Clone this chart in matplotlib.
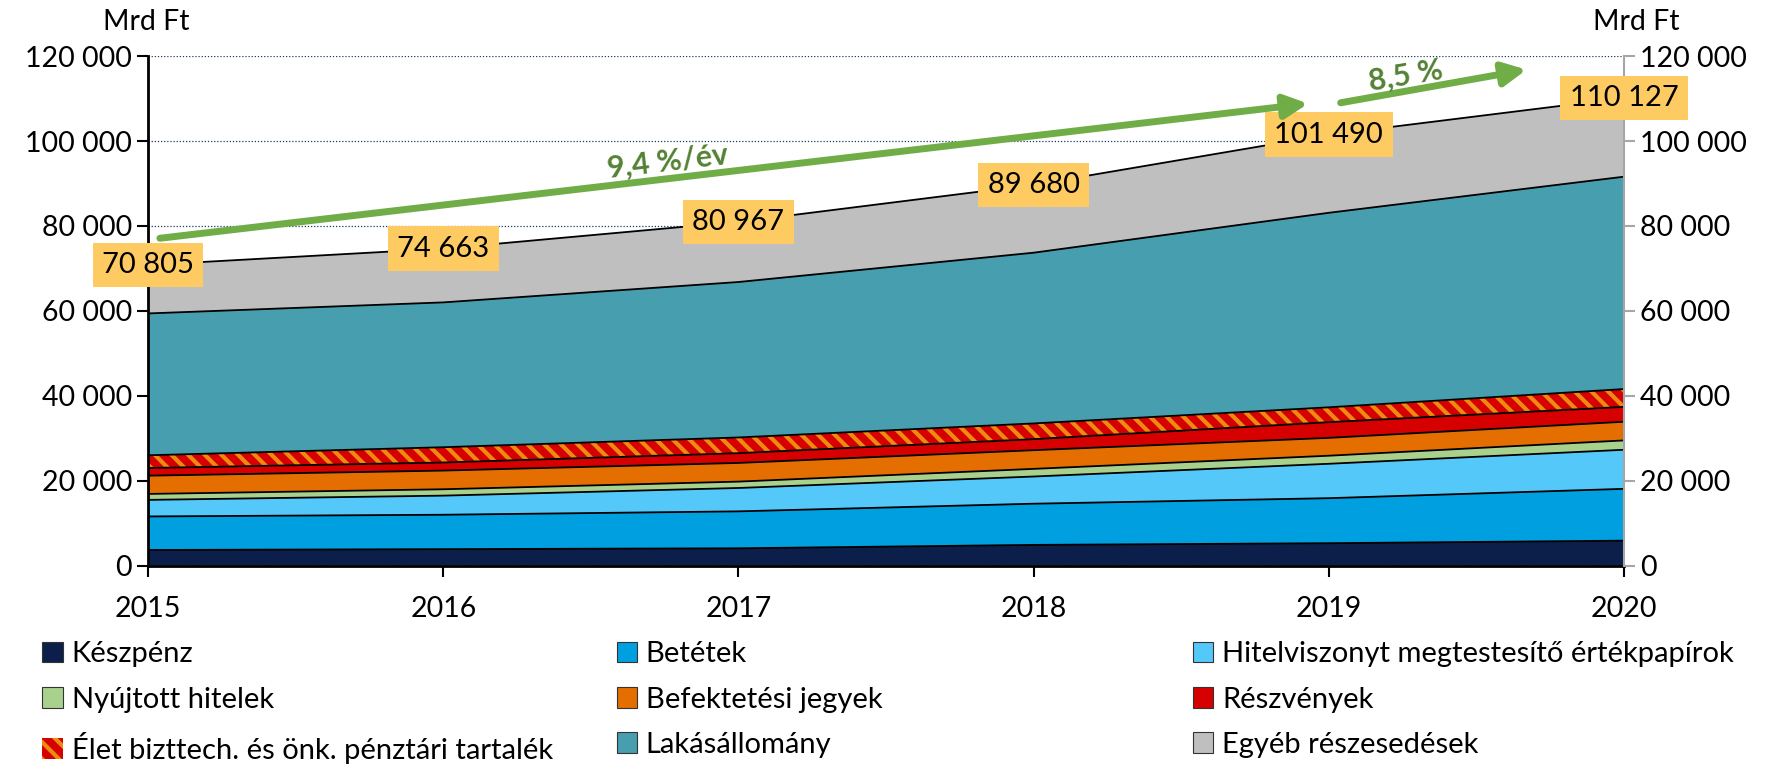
import matplotlib
matplotlib.use("Agg")
import matplotlib.pyplot as plt
from matplotlib.patches import Patch
from matplotlib.ticker import FuncFormatter

plt.rcParams['font.family'] = ['Lato', 'DejaVu Sans']
plt.rcParams['hatch.linewidth'] = 3.0

# data, Mrd Ft
years = [2015, 2016, 2017, 2018, 2019, 2020]
keszpenz = [3700, 3900, 4100, 4900, 5300, 5900]
betetek = [7900, 8100, 8700, 9700, 10600, 12200]
hitelpapir = [3900, 4500, 5500, 6400, 8100, 9200]
nyujtott = [1400, 1500, 1500, 1800, 1900, 2200]
befjegy = [4300, 4400, 4400, 4400, 4200, 4400]
reszvenyek = [1800, 1900, 2300, 2600, 3700, 3500]
elet = [3000, 3600, 3700, 3700, 3500, 4200]
lakas = [33400, 34100, 36600, 40200, 45800, 50000]
egyeb = [11405, 12663, 14167, 15980, 18390, 18527]
totals = [70805, 74663, 80967, 89680, 101490, 110127]

names = ['Készpénz', 'Betétek', 'Hitelviszonyt megtestesítő értékpapírok',
         'Nyújtott hitelek', 'Befektetési jegyek', 'Részvények',
         'Élet bizttech. és önk. pénztári tartalék', 'Lakásállomány',
         'Egyéb részesedések']
series = [keszpenz, betetek, hitelpapir, nyujtott, befjegy, reszvenyek,
          elet, lakas, egyeb]
colors = ['#0C1F4A', '#009FE0', '#55C8FA', '#A9D18E', '#E46F00',
          '#D60000', '#D60000', '#479EAF', '#BFBFBF']

growth = [('9,4 %/év', 2015.04, 77100, 2018.93, 108800, 2016.76, 95100, 6.7),
          ('8,5 %', 2019.04, 109000, 2019.67, 116800, 2019.26, 115400, 9.5)]

fig = plt.figure(figsize=(17.67, 7.68), dpi=100)
ax = fig.add_axes([0.0838, 0.2634, 0.8353, 0.6636])

polys = ax.stackplot(years, *series, colors=colors, linewidth=0, zorder=2)
polys[6].set_hatch('\\\\')
polys[6].set_edgecolor('#EE8A10')

# black borders between the layers
cum = [0] * len(years)
for s in series:
    cum = [c + v for c, v in zip(cum, s)]
    ax.plot(years, cum, color='black', lw=1.3, zorder=3)

ax.set_xlim(2015, 2020)
ax.set_ylim(0, 120000)
ax.set_yticks(range(0, 120001, 20000))
ax.set_xticks(years)
fmt = FuncFormatter(lambda v, p: f"{int(v):,}".replace(',', ' '))
ax.yaxis.set_major_formatter(fmt)
ax.grid(axis='y', color='#1F3864', ls=(0, (1, 1.5)), lw=0.9)
ax.set_axisbelow(True)
ax.tick_params(axis='both', labelsize=20.5, direction='out', length=8, width=1.5)
ax.tick_params(axis='x', pad=14)
for sp in ['top', 'right']:
    ax.spines[sp].set_visible(False)
ax.spines['left'].set_linewidth(2)
ax.spines['bottom'].set_linewidth(2)

ax2 = ax.twinx()
ax2.set_ylim(0, 120000)
ax2.set_yticks(range(0, 120001, 20000))
ax2.yaxis.set_major_formatter(fmt)
ax2.tick_params(axis='y', labelsize=20.5, direction='out', length=8, width=1.5,
                color='#A6A6A6')
for sp in ['top', 'left', 'bottom']:
    ax2.spines[sp].set_visible(False)
ax2.spines['right'].set_color('#A6A6A6')
ax2.spines['right'].set_linewidth(1.5)

# total labels
for yr, t in zip(years, totals):
    ax2.text(yr, t, f"{t:,}".replace(',', ' '), ha='center', va='center',
             fontsize=21, zorder=5,
             bbox=dict(boxstyle='square,pad=0.32', fc='#FECB62', ec='none'))

# growth arrows
for lbl, x0, y0, x1, y1, tx, ty, rot in growth:
    ax2.annotate('', xy=(x1, y1), xytext=(x0, y0),
                 arrowprops=dict(arrowstyle='-|>,head_length=1.4,head_width=0.7',
                                 color='#70AD47', lw=5, shrinkA=0, shrinkB=0),
                 zorder=6)
    ax2.text(tx, ty, lbl, ha='center', va='center', rotation=rot,
             fontsize=22, fontweight='bold', color='#548235', zorder=6)

fig.text(0.083, 0.971, 'Mrd Ft', ha='center', va='center', fontsize=20.5)
fig.text(0.926, 0.971, 'Mrd Ft', ha='center', va='center', fontsize=20.5)

# legend, three columns
handles = []
for i, (n, c) in enumerate(zip(names, colors)):
    if i == 6:
        h = Patch(facecolor=c, edgecolor='#EE8A10', hatch='\\\\', lw=0)
    else:
        h = Patch(facecolor=c, edgecolor='#333333', lw=0.8)
    handles.append(h)
col_x = [0.024, 0.349, 0.675]
for k in range(3):
    idx = [k, k + 3, k + 6]
    fig.legend([handles[i] for i in idx], [names[i] for i in idx],
               loc='upper left', bbox_to_anchor=(col_x[k], 0.165),
               frameon=False, fontsize=21, handlelength=0.7,
               handleheight=0.7, handletextpad=0.3, labelspacing=0.66,
               borderpad=0, borderaxespad=0)

fig.savefig('out.png', dpi=100)
